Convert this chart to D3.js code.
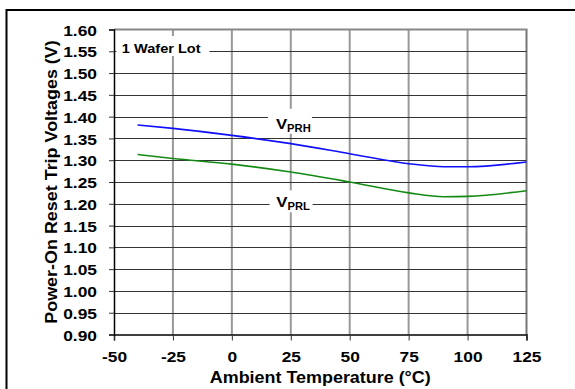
<!DOCTYPE html>
<html>
<head>
<meta charset="utf-8">
<script src="https://cdn.jsdelivr.net/npm/d3@7"></script>
<style>
  html, body { margin: 0; padding: 0; background: #fff; }
  svg { display: block; font-family: Arial, "Liberation Sans", sans-serif; font-weight: bold; }
</style>
</head>
<body>
<svg id="chart" width="575" height="389"></svg>
<script>
// data
const temps = [-40, -25, 0, 25, 50, 75, 90, 100, 125];
const vprh = [1.381, 1.373, 1.357, 1.338, 1.315, 1.292, 1.285, 1.285, 1.296];
const vprl = [1.313, 1.304, 1.291, 1.273, 1.250, 1.225, 1.216, 1.217, 1.230];
const xTicks = [-50, -25, 0, 25, 50, 75, 100, 125];
const yTicks = [0.90, 0.95, 1.00, 1.05, 1.10, 1.15, 1.20, 1.25, 1.30, 1.35, 1.40, 1.45, 1.50, 1.55, 1.60];

const width = 575, height = 389;
const margin = { top: 29.5, right: 48.5, bottom: 54.5, left: 114 };
const stretch = 1.12; // glyphs in the original are a bit wide

const svg = d3.select('#chart');

// outer frame (runs off the right/bottom edge)
svg.append('rect')
  .attr('x', 6.5).attr('y', 10)
  .attr('width', 620).attr('height', 420)
  .attr('fill', 'none')
  .attr('stroke', '#000')
  .attr('stroke-width', 2);

const x = d3.scaleLinear([-50, 125], [margin.left, width - margin.right]);
const y = d3.scaleLinear([0.90, 1.60], [height - margin.bottom, margin.top]);

const grid = svg.append('g').attr('class', 'grid');
// vertical grid (gray, thicker)
grid.selectAll('.vgrid')
  .data(xTicks.slice(1))
  .join('line')
    .attr('x1', d => x(d)).attr('x2', d => x(d))
    .attr('y1', y(1.60)).attr('y2', y(0.90))
    .attr('stroke', d => d === 125 ? '#777' : '#999')
    .attr('stroke-width', 2);
// horizontal grid (dark, thin)
grid.selectAll('.hgrid')
  .data(yTicks.slice(1, -1))
  .join('line')
    .attr('x1', x(-50)).attr('x2', x(125))
    .attr('y1', d => Math.round(y(d)) + 0.5).attr('y2', d => Math.round(y(d)) + 0.5)
    .attr('stroke', '#333')
    .attr('stroke-width', 1);
// top border
grid.append('line')
  .attr('x1', x(-50)).attr('x2', x(125) + 1)
  .attr('y1', y(1.60)).attr('y2', y(1.60))
  .attr('stroke', '#888').attr('stroke-width', 2);

// white boxes behind the labels
const labels = [
  { text: '1 Wafer Lot', t: -49, v: 1.585, w: 93, h: 20, tx: 5.5, ty: 17, size: 13 },
  { text: 'V', sub: 'PRH', t: 15.3, v: 1.418, w: 44, h: 25, tx: 8, ty: 20, size: 15 },
  { text: 'V', sub: 'PRL', t: 16, v: 1.231, w: 43, h: 22, tx: 6.7, ty: 17, size: 15 }
];
svg.append('g').selectAll('rect')
  .data(labels)
  .join('rect')
    .attr('x', d => x(d.t)).attr('y', d => y(d.v))
    .attr('width', d => d.w).attr('height', d => d.h)
    .attr('fill', '#fff');

// axes
const xAxis = d3.axisBottom(x).tickValues(xTicks).tickSize(6).tickPadding(10)
  .tickFormat(d => String(d));
const yAxis = d3.axisLeft(y).tickValues(yTicks).tickSize(5).tickPadding(12)
  .tickFormat(d3.format('.2f'));

const gx = svg.append('g')
  .attr('transform', `translate(0, ${y(0.90)})`)
  .call(xAxis);
const gy = svg.append('g')
  .attr('transform', `translate(${x(-50)}, 0)`)
  .call(yAxis);
[gx, gy].forEach(g => {
  g.select('.domain').attr('stroke', '#000').attr('stroke-width', 1.5);
  g.selectAll('.tick line').attr('stroke', '#333');
  g.selectAll('.tick text')
    .attr('fill', '#000')
    .attr('font-size', 15.5)
    .attr('font-family', 'Arial, "Liberation Sans", sans-serif')
    .attr('font-weight', 'bold');
});
gy.selectAll('.tick text').attr('dy', '0.36em');

// curves
const line = d3.line()
  .curve(d3.curveMonotoneX)
  .x(d => x(d[0]))
  .y(d => y(d[1]));
svg.append('path')
  .attr('d', line(temps.map((t, i) => [t, vprh[i]])))
  .attr('fill', 'none')
  .attr('stroke', '#1010ff')
  .attr('stroke-width', 1.6);
svg.append('path')
  .attr('d', line(temps.map((t, i) => [t, vprl[i]])))
  .attr('fill', 'none')
  .attr('stroke', '#148a14')
  .attr('stroke-width', 1.6);

// label text
labels.forEach(d => {
  const t = svg.append('text')
    .attr('x', x(d.t) + d.tx)
    .attr('y', y(d.v) + d.ty)
    .attr('font-size', d.size)
    .attr('fill', '#000')
    .text(d.text);
  if (d.sub) {
    t.append('tspan')
      .attr('font-size', 10)
      .attr('dy', 3)
      .text(d.sub);
  }
});

// axis titles
svg.append('text')
  .attr('x', (x(-50) + x(125)) / 2)
  .attr('y', 382.5)
  .attr('text-anchor', 'middle')
  .attr('font-size', 16)
  .text('Ambient Temperature (°C)');
svg.append('text')
  .attr('transform', `translate(57, ${(y(0.90) + y(1.60)) / 2}) rotate(-90)`)
  .attr('text-anchor', 'middle')
  .attr('font-size', 16)
  .text('Power-On Reset Trip Voltages (V)');

// widen glyphs a little, like the original
svg.selectAll('text').each(function () {
  const len = this.getComputedTextLength();
  d3.select(this)
    .attr('textLength', len * stretch)
    .attr('lengthAdjust', 'spacingAndGlyphs');
});
</script>
</body>
</html>
